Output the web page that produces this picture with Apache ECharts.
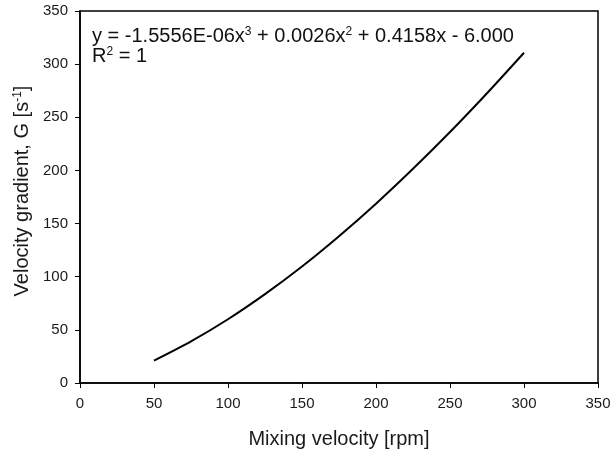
<!DOCTYPE html>
<html>
<head>
<meta charset="utf-8">
<script src="https://cdn.jsdelivr.net/npm/echarts@6/dist/echarts.min.js"></script>
<style>html,body{margin:0;padding:0;background:#fff}#c{width:611px;height:450px}</style>
</head>
<body>
<div id="c"></div>
<script>
const xValues = [50, 75, 100, 125, 150, 175, 200, 225, 250, 275, 300];
const yValues = [21.1, 39.2, 60.0, 83.6, 109.6, 138.1, 168.7, 201.5, 236.1, 272.6, 310.7];
const xTicks = [0, 50, 100, 150, 200, 250, 300, 350];
const yTicks = [0, 50, 100, 150, 200, 250, 300, 350];

const font = 'Liberation Sans, Arial, sans-serif';
const chart = echarts.init(document.getElementById('c'));
chart.setOption({
  animation: false,
  backgroundColor: '#fff',
  grid: { left: 80, right: 13, top: 11, bottom: 67, show: true, borderColor: '#000', borderWidth: 1.5,
    containLabel: false, outerBoundsMode: 'none' },
  xAxis: {
    type: 'value', min: xTicks[0], max: xTicks[xTicks.length - 1], interval: 50,
    name: 'Mixing velocity [rpm]', nameLocation: 'middle', nameGap: 46,
    nameTextStyle: { fontFamily: font, fontSize: 20, color: '#1a1a1a' },
    axisLine: { show: true, lineStyle: { color: '#000', width: 1.5 } },
    axisTick: { show: true, inside: false, length: 5, lineStyle: { color: '#000', width: 1 } },
    axisLabel: { fontFamily: font, fontSize: 15, color: '#1a1a1a', margin: 13 },
    splitLine: { show: false }
  },
  yAxis: {
    type: 'value', min: yTicks[0], max: yTicks[yTicks.length - 1], interval: 50,
    name: 'Velocity gradient, G [s{sup|-1}]', nameLocation: 'middle', nameGap: 47,
    nameTextStyle: { fontFamily: font, fontSize: 20, color: '#1a1a1a', padding: [0, 0, 0, 12],
      rich: { sup: { fontFamily: font, fontSize: 12, color: '#1a1a1a', verticalAlign: 'top', padding: [0, 0, 9, 0] } } },
    axisLine: { show: true, lineStyle: { color: '#000', width: 1.5 } },
    axisTick: { show: true, inside: false, length: 5, lineStyle: { color: '#000', width: 1 } },
    axisLabel: { fontFamily: font, fontSize: 15, color: '#1a1a1a', margin: 12 },
    splitLine: { show: false }
  },
  graphic: [
    { type: 'text', left: 92, top: 26, style: {
      text: '{t|y = -1.5556E-06x}{s|3}{t| + 0.0026x}{s|2}{t| + 0.4158x - 6.000}\n{t|R}{s|2}{t| = 1}',
      font: '20px ' + font, fill: '#111',
      rich: {
        t: { fontSize: 20, fontFamily: font, fill: '#111', lineHeight: 20, verticalAlign: 'bottom' },
        s: { fontSize: 12, fontFamily: font, fill: '#111', lineHeight: 12, verticalAlign: 'top' }
      }
    } }
  ],
  series: [{
    type: 'line', data: xValues.map((x, i) => [x, yValues[i]]),
    smooth: 0.3, showSymbol: false, lineStyle: { color: '#000', width: 2 }
  }]
});
</script>
</body>
</html>
